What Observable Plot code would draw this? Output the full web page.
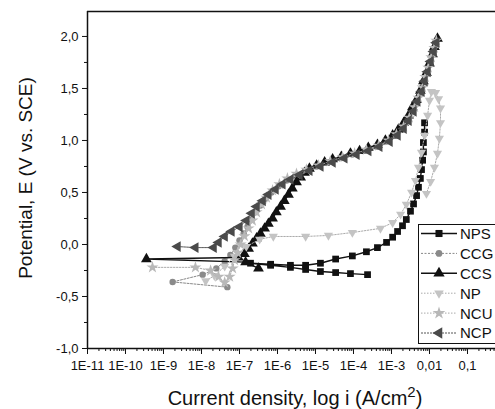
<!DOCTYPE html>
<html><head><meta charset="utf-8">
<script src="https://cdn.jsdelivr.net/npm/d3@7"></script>
<script src="https://cdn.jsdelivr.net/npm/@observablehq/plot@0.6"></script>
<style>html,body{margin:0;padding:0;background:#fff;} #chart{width:495px;height:409px;overflow:hidden;position:relative}</style>
</head><body><div id="chart"></div>
<script>
// ---- data (x = log10 of current density i in A/cm2, y = potential E in V vs. SCE) ----
const seriesNames = ["NPS", "CCG", "CCS", "NP", "NCU", "NCP"];
const xTickValues = [-11, -10, -9, -8, -7, -6, -5, -4, -3, -2, -1];
const xTickLabels = ["1E-11", "1E-10", "1E-9", "1E-8", "1E-7", "1E-6", "1E-5", "1E-4", "1E-3", "0,01", "0,1"];
const yTickValues = [-1, -0.5, 0, 0.5, 1, 1.5, 2];
const yTickLabels = ["-1,0", "-0,5", "0,0", "0,5", "1,0", "1,5", "2,0"];

const npsLogI = [-3.63,-4.08,-4.47,-4.87,-5.26,-5.66,-6.18,-6.71,-6.18,-5.66,-5.26,-4.87,-4.47,-4.03,-3.66,-3.37,-3.13,-2.97,-2.84,-2.71,-2.61,-2.50,-2.42,-2.34,-2.29,-2.24,-2.21,-2.18,-2.16,-2.16,-2.13,-2.13];
const npsE    = [-0.29,-0.28,-0.27,-0.26,-0.24,-0.22,-0.20,-0.18,-0.19,-0.20,-0.20,-0.18,-0.14,-0.11,-0.07,-0.03,0.02,0.07,0.125,0.18,0.24,0.32,0.39,0.47,0.55,0.635,0.72,0.81,0.89,0.98,1.08,1.17];

const ccgLogI = [-7.32,-8.76,-7.97,-7.61,-7.39,-7.24,-7.11,-7.00,-6.89,-6.79,-6.68,-6.58,-6.45,-6.32,-6.16,-5.97,-5.76,-5.53,-5.26,-4.97,-4.66,-4.34,-4.03,-3.71,-3.39,-3.13,-2.92,-2.74,-2.58,-2.45,-2.34,-2.24,-2.16,-2.08,-2.00,-1.92,-1.84];
const ccgE    = [-0.41,-0.36,-0.29,-0.23,-0.16,-0.10,-0.03,0.04,0.105,0.17,0.24,0.31,0.375,0.44,0.50,0.56,0.615,0.66,0.71,0.75,0.79,0.83,0.865,0.90,0.94,0.99,1.05,1.115,1.19,1.28,1.365,1.46,1.56,1.65,1.75,1.85,1.93];

const ccsLogI = [-6.50,-6.84,-9.45,-7.03,-6.87,-6.76,-6.66,-6.55,-6.45,-6.34,-6.24,-6.13,-6.03,-5.92,-5.82,-5.71,-5.61,-5.50,-5.39,-5.29,-5.16,-4.97,-4.76,-4.55,-4.32,-4.08,-3.84,-3.61,-3.37,-3.16,-2.97,-2.82,-2.68,-2.55,-2.45,-2.34,-2.24,-2.16,-2.08,-2.00,-1.92,-1.87,-1.79];
const ccsE    = [-0.23,-0.17,-0.14,-0.125,-0.09,-0.04,0.01,0.06,0.105,0.155,0.20,0.25,0.31,0.365,0.42,0.48,0.54,0.60,0.645,0.69,0.73,0.76,0.79,0.82,0.845,0.875,0.90,0.93,0.96,1.00,1.05,1.105,1.17,1.24,1.32,1.39,1.48,1.57,1.65,1.74,1.83,1.90,1.98];

const npLogI = [-7.89,-7.66,-7.39,-7.13,-6.82,-6.47,-6.11,-5.26,-4.66,-4.03,-3.29,-2.97,-2.76,-2.61,-2.47,-2.37,-2.29,-2.21,-2.13,-2.05,-2.00,-1.95,-1.84,-1.76,-1.71,-1.71,-1.74,-1.79,-1.87,-1.97,-2.08];
const npE    = [-0.35,-0.30,-0.21,-0.115,-0.02,0.05,0.077,0.077,0.087,0.115,0.155,0.21,0.29,0.385,0.50,0.615,0.74,0.885,1.05,1.24,1.385,1.47,1.46,1.40,1.31,1.17,1.02,0.875,0.74,0.605,0.49];

const ncuLogI = [-9.29,-8.16,-7.76,-7.55,-7.39,-7.26,-7.18,-7.13,-7.05,-6.97,-6.87,-6.76,-6.66,-6.55,-6.42,-6.29,-6.13,-5.95,-5.74,-5.50,-5.24,-4.92,-4.61,-4.29,-3.97,-3.66,-3.34,-3.08,-2.87,-2.68,-2.53,-2.39,-2.29,-2.18,-2.11,-2.03,-1.95,-1.87,-1.82];
const ncuE    = [-0.22,-0.22,-0.25,-0.31,-0.365,-0.31,-0.23,-0.15,-0.08,0.00,0.08,0.155,0.23,0.31,0.385,0.45,0.52,0.58,0.635,0.68,0.72,0.76,0.80,0.84,0.875,0.91,0.95,1.00,1.06,1.135,1.22,1.32,1.41,1.51,1.61,1.70,1.80,1.89,1.96];

const ncpLogI = [-8.63,-8.16,-7.68,-7.55,-7.39,-7.21,-7.00,-6.82,-6.68,-6.55,-6.39,-6.24,-6.05,-5.87,-5.66,-5.42,-5.16,-4.87,-4.55,-4.24,-3.92,-3.61,-3.32,-3.05,-2.84,-2.68,-2.55,-2.42,-2.32,-2.21,-2.13,-2.05,-1.97,-1.89,-1.82];
const ncpE    = [-0.02,-0.03,-0.03,0.02,0.077,0.125,0.17,0.23,0.30,0.365,0.42,0.48,0.53,0.58,0.625,0.67,0.71,0.75,0.79,0.83,0.865,0.90,0.94,0.99,1.05,1.115,1.19,1.28,1.375,1.47,1.57,1.66,1.76,1.855,1.94];

// ---- custom marker shapes ----
const s3 = Math.sqrt(3);
const triDown = {draw(ctx, size) { const y = -Math.sqrt(size / (s3 * 3)); ctx.moveTo(0, -y * 2); ctx.lineTo(-s3 * y, y); ctx.lineTo(s3 * y, y); ctx.closePath(); }};
const triLeft = {draw(ctx, size) { const y = -Math.sqrt(size / (s3 * 3)); ctx.moveTo(y * 2, 0); ctx.lineTo(-y, -s3 * y); ctx.lineTo(-y, s3 * y); ctx.closePath(); }};

const styles = {
  NPS: {stroke: "#111", sw: 1.4, dash: null, symbol: d3.symbolSquare, r: 3.8, fill: "#111"},
  CCG: {stroke: "#888", sw: 1, dash: "2,1.5", symbol: d3.symbolCircle, r: 3.2, fill: "#8a8a8a"},
  CCS: {stroke: "#111", sw: 1.4, dash: null, symbol: d3.symbolTriangle, r: 4, fill: "#111"},
  NP:  {stroke: "#aaa", sw: 1, dash: "1.5,1.5", symbol: triDown, r: 3.4, fill: "#c4c4c4"},
  NCU: {stroke: "#aaa", sw: 1, dash: "1.5,1.5", symbol: d3.symbolStar, r: 3.8, fill: "#b8b8b8"},
  NCP: {stroke: "#555", sw: 1, dash: "2,1", symbol: triLeft, r: 4, fill: "#4a4a4a"}
};
const seriesData = {
  NPS: [npsLogI, npsE], CCG: [ccgLogI, ccgE], CCS: [ccsLogI, ccsE],
  NP: [npLogI, npE], NCU: [ncuLogI, ncuE], NCP: [ncpLogI, ncpE]
};
const rows = name => seriesData[name][0].map((v, i) => ({x: v, y: seriesData[name][1][i]}));

const xMinor = [];
for (let n = -11; n <= -1; n++) for (let k = 2; k <= 9; k++) { const v = n + Math.log10(k); if (v < -0.263) xMinor.push(v); }
const yMinor = [-0.75, -0.25, 0.25, 0.75, 1.25, 1.75];

const marks = [
  Plot.axisX({ticks: xTickValues, tickSize: 6, tickPadding: 6, fontSize: 13, tickFormat: d => xTickLabels[xTickValues.indexOf(d)], label: null}),
  Plot.axisX({ticks: xMinor, tickSize: 3, tickFormat: () => "", label: null}),
  Plot.axisY({ticks: yTickValues, tickSize: 5, tickPadding: 4, fontSize: 13, tickFormat: d => yTickLabels[yTickValues.indexOf(d)], label: null}),
  Plot.axisY({ticks: yMinor, tickSize: 3, tickFormat: () => "", label: null}),
  Plot.ruleX([-11], {stroke: "#111", strokeWidth: 1.5}),
  Plot.ruleY([-1], {stroke: "#111", strokeWidth: 1.5}),
  Plot.ruleY([2.24], {stroke: "#111", strokeWidth: 1.5})
];
for (const name of seriesNames) {
  const s = styles[name];
  marks.push(Plot.line(rows(name), {x: "x", y: "y", stroke: s.stroke, strokeWidth: s.sw, strokeDasharray: s.dash}));
  marks.push(Plot.dot(rows(name), {x: "x", y: "y", symbol: s.symbol, r: s.r, fill: s.fill, stroke: "none"}));
}

const chart = Plot.plot({
  width: 495, height: 409,
  marginLeft: 87, marginRight: 0, marginTop: 11, marginBottom: 61,
  x: {type: "linear", domain: [-11, -0.263]},
  y: {domain: [-1, 2.24]},
  style: {fontFamily: "'Liberation Sans', Arial, sans-serif", background: "#fff", color: "#111"},
  marks
});
document.getElementById("chart").appendChild(chart);

// ---- titles and legend ----
const svg = d3.select(chart);
const FONT = "'Liberation Sans', Arial, sans-serif";
const xt = svg.append("text").attr("x", 295).attr("y", 405).attr("text-anchor", "middle")
  .attr("font-size", 20).attr("fill", "#111").attr("font-family", FONT);
xt.append("tspan").text("Current density, log i (A/cm");
xt.append("tspan").attr("dy", -8).attr("font-size", 15).text("2");
xt.append("tspan").attr("dy", 8).text(")");
svg.append("text").attr("transform", "translate(25,178) rotate(-90)").attr("text-anchor", "middle").attr("dy", "0.35em")
  .attr("font-size", 19).attr("fill", "#111").attr("font-family", FONT)
  .text("Potential, E (V vs. SCE)");

const lg = svg.append("g");
lg.append("rect").attr("x", 418.5).attr("y", 224.5).attr("width", 90).attr("height", 119)
  .attr("fill", "#fff").attr("stroke", "#111").attr("stroke-width", 1);
seriesNames.forEach((name, i) => {
  const s = styles[name];
  const y = 233.5 + i * 19.9;
  lg.append("line").attr("x1", 421).attr("x2", 457).attr("y1", y).attr("y2", y)
    .attr("stroke", s.stroke).attr("stroke-width", s.sw).attr("stroke-dasharray", s.dash);
  lg.append("path").attr("transform", `translate(439,${y})`)
    .attr("d", d3.symbol().type(s.symbol).size(Math.PI * s.r * s.r * 1.1)()).attr("fill", s.fill);
  lg.append("text").attr("x", 460).attr("y", y).attr("dy", "0.36em").attr("font-size", 15)
    .attr("text-anchor", "start")
    .attr("fill", "#111").attr("font-family", FONT).text(name);
});
</script>
</body></html>
